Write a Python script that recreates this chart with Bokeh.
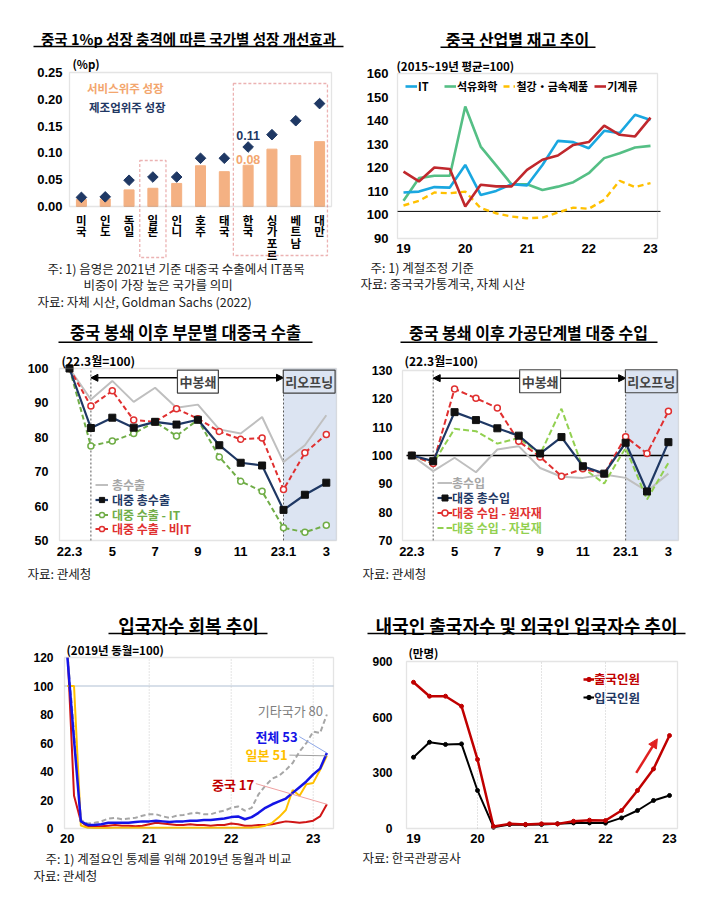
import math
from bokeh.plotting import figure
from bokeh.models import (Label, BoxAnnotation, Legend, LegendItem, FixedTicker,
                          Arrow, NormalHead, Range1d, NumeralTickFormatter)
from bokeh.layouts import column, row
from bokeh.embed import file_html
from bokeh.resources import INLINE

KR = "Noto Sans CJK KR"
AR = "Liberation Sans"

# ---------------- data ----------------
# Panel 1
p1_countries = ["미국", "인도", "독일", "일본", "인니", "호주", "태국", "한국", "싱가포르", "베트남", "대만"]
p1_service = [0.013, 0.014, 0.031, 0.034, 0.043, 0.076, 0.065, 0.077, 0.107, 0.095, 0.121]
p1_manuf = [0.017, 0.018, 0.049, 0.055, 0.055, 0.090, 0.090, 0.111, 0.134, 0.160, 0.192]
p1_yticks = [0.0, 0.05, 0.10, 0.15, 0.20, 0.25]

# Panel 2 (quarterly)
p2_quarters = ["19Q1", "19Q2", "19Q3", "19Q4", "20Q1", "20Q2", "20Q3", "20Q4", "21Q1", "21Q2",
               "21Q3", "21Q4", "22Q1", "22Q2", "22Q3", "22Q4", "23Q1"]
p2_it = [109.5, 109.9, 111.8, 111.6, 121.2, 108.5, 110.2, 113.0, 112.5, 121.2, 131.4, 130.9,
         128.3, 135.7, 134.7, 142.5, 140.3]
p2_petro = [106.0, 115.6, 116.6, 116.6, 146.0, 129.0, 121.0, 113.0, 113.0, 110.6, 112.0, 113.9,
            117.7, 124.1, 126.2, 128.6, 129.3]
p2_steel = [104.0, 106.0, 109.5, 109.2, 109.9, 102.9, 100.7, 99.3, 98.6, 98.9, 101.0, 103.1,
            102.6, 106.4, 114.5, 111.8, 113.5]
p2_mach = [118.4, 114.2, 120.1, 119.5, 103.6, 112.8, 112.1, 112.1, 119.1, 123.4, 125.2, 129.7,
           130.9, 137.9, 134.0, 133.3, 141.3]
p2_years = [2019, 2020, 2021, 2022, 2023]
p2_year_labels = ["19", "20", "21", "22", "23"]
p2_yticks = [90, 100, 110, 120, 130, 140, 150, 160]
p2_ref = 101.5

# Panel 3 (monthly, 22.3 = 100)
p3_months = ["22.3", "22.4", "22.5", "22.6", "22.7", "22.8", "22.9", "22.10", "22.11", "22.12",
             "23.1", "23.2", "23.3"]
p3_tick_labels = {0: "22.3", 2: "5", 4: "7", 6: "9", 8: "11", 10: "23.1", 12: "3"}
p3_yticks = [50, 60, 70, 80, 90, 100]
p3_total = [100, 91.0, 96.4, 90.3, 94.4, 88.6, 89.5, 82.3, 81.1, 85.9, 72.8, 77.7, 86.4]
p3_china = [100, 82.7, 85.7, 82.8, 84.5, 83.7, 85.1, 77.7, 72.6, 71.8, 58.9, 63.3, 66.8]
p3_it = [100, 77.5, 78.9, 81.1, 84.5, 80.4, 85.1, 74.3, 67.2, 64.3, 53.7, 52.4, 54.4]
p3_nonit = [100, 89.1, 93.5, 85.0, 84.5, 88.3, 85.4, 81.7, 79.4, 79.8, 64.8, 75.5, 80.8]

# Panel 4
p4_yticks = [70, 80, 90, 100, 110, 120, 130]
p4_total = [100, 94.5, 99.2, 94.1, 102.1, 103.3, 95.6, 92.5, 92.1, 93.3, 92.1, 87.4, 93.6]
p4_china = [100, 98.0, 115.3, 112.5, 109.6, 107.0, 100.7, 106.5, 96.2, 93.6, 104.5, 87.3, 104.7]
p4_raw = [100, 97.2, 123.5, 120.2, 116.8, 105.0, 99.5, 92.7, 95.3, 93.6, 106.6, 100.7, 115.6]
p4_capital = [100, 97.2, 109.4, 108.6, 104.2, 106.2, 100.4, 116.5, 95.6, 90.1, 102.7, 84.5, 97.4]

# Panel 5 (monthly, 2019 same month = 100)
p5_months = [f"{y}-{m:02d}" for y in range(2020, 2024) for m in range(1, 13)][:39]
p5_total = [122, 62, 5, 2.5, 2.5, 3, 4, 4, 4, 4, 4.5, 5, 5, 5.5, 5, 4.5, 5, 5, 5.5, 5.5, 6, 6, 6.5,
            7, 8, 8.5, 6.5, 8, 11, 14.5, 17, 19, 21, 25, 29, 33, 38, 42, 53]
p5_other = [125, 68, 6, 3.5, 4, 5, 7, 7.5, 6.5, 7, 7.5, 9, 10, 10, 8.5, 7.5, 9, 9.5, 10.5, 11, 10,
            10, 11.5, 12.5, 14.5, 15.5, 12.5, 14.5, 24, 30, 35, 37, 41, 46, 54, 60, 68, 67, 80]
p5_japan = [100, 100, 2, 0.5, 0.4, 0.4, 0.4, 0.5, 0.5, 0.5, 0.5, 0.5, 0.5, 0.5, 0.5, 0.5, 0.5,
            0.5, 0.5, 0.5, 0.5, 0.5, 0.5, 0.5, 0.5, 0.5, 0.5, 0.5, 1, 2, 4, 8, 13, 27, 23, 31,
            32, 41, 51]
p5_china = [130, 23, 5, 1, 1, 1.5, 2, 2.5, 2, 2, 1.5, 2, 3, 4, 3.5, 3, 2.5, 2.5, 3, 2.5, 2.5, 2,
            2.5, 2.5, 3.5, 3, 2, 2, 2.5, 2.5, 3, 4, 5, 4.5, 4, 4.5, 5.5, 8.5, 17]
p5_years = [2020, 2021, 2022, 2023]
p5_year_labels = ["20", "21", "22", "23"]
p5_yticks = [0, 20, 40, 60, 80, 100, 120]

# Panel 6 (quarterly, 만명)
p6_quarters = p2_quarters
p6_out = [788, 713, 713, 659, 372, 11, 25, 22, 25, 25, 39, 45, 43, 97, 205, 321, 501]
p6_in = [384, 465, 453, 456, 205, 7, 22, 20, 22, 25, 30, 30, 29, 57, 97, 151, 178]
p6_years = [2019, 2020, 2021, 2022, 2023]
p6_year_labels = ["19", "20", "21", "22", "23"]
p6_yticks = [0, 300, 600, 900]


def q2x(q):
    return 2000 + int(q[:2]) + (int(q[3]) - 1) / 4


def m2x(m):
    y, mo = m.split("-")
    return int(y) + (int(mo) - 1) / 12


# ---------------- helpers ----------------
NAVY = "#1F3864"
ORANGE = "#F4B183"
GRAYBOX = "#A6A6A6"


def mapper(va, pa, vb, pb):
    k = (vb - va) / (pb - pa)
    return lambda px: va + (px - pa) * k


def panel_fig(P, X, Y):
    x0, y0, x1, y1 = P
    p = figure(width=x1 - x0, height=y1 - y0, x_range=Range1d(X(x0), X(x1)),
               y_range=Range1d(Y(y1), Y(y0)), title=None, output_backend="svg",
               toolbar_location=None, min_border_left=0, min_border_right=0,
               min_border_top=0, min_border_bottom=0)
    p.xgrid.visible = False
    p.ygrid.visible = False
    p.outline_line_color = None
    for ax in [p.xaxis[0], p.yaxis[0]]:
        ax.axis_line_color = None
        ax.major_tick_line_color = None
        ax.minor_tick_line_color = None
        ax.major_tick_out = 0
        ax.major_tick_in = 0
        ax.minor_tick_out = 0
        ax.minor_tick_in = 0
        ax.major_label_text_font = AR
        ax.major_label_text_font_style = "bold"
        ax.major_label_text_font_size = "13px"
        ax.major_label_text_color = "black"
    return p


def place_axes(p, P, ylab_right, xlab_top):
    # tick labels sit inside the panel: right edge of y labels / top of x labels (page px)
    p.yaxis[0].major_label_standoff = -(ylab_right - P[0])
    p.xaxis[0].major_label_standoff = xlab_top - P[3]


def ptext(p, P, X, Y, text, size, color="black", bold=False, font=KR, align="left"):
    p.add_layout(Label(x=X - P[0], y=P[3] - Y, x_units="screen", y_units="screen",
                       text=text, text_font=font, text_font_size=f"{size}px",
                       text_font_style="bold" if bold else "normal",
                       text_color=color, text_align=align, text_baseline="middle"))


def ptitle(p, P, Xc, Y, text, size, X0, X1, Yu):
    ptext(p, P, Xc, Y, text, size, bold=True, align="center")
    p.add_layout(BoxAnnotation(left=X0 - P[0], right=X1 - P[0], bottom=P[3] - Yu - 0.8,
                               top=P[3] - Yu + 0.8, left_units="screen", right_units="screen",
                               bottom_units="screen", top_units="screen",
                               fill_color="black", fill_alpha=1, line_color=None))


def pnote(p, P, X, Y, text):
    ptext(p, P, X, Y, text, 12.5, color="#222222")


def pbox(p, P, fl, fr, ft, fb):
    p.add_layout(BoxAnnotation(left=fl - P[0], right=fr - P[0], bottom=P[3] - fb, top=P[3] - ft,
                               left_units="screen", right_units="screen",
                               bottom_units="screen", top_units="screen",
                               fill_alpha=0, line_color=GRAYBOX, line_width=1.3))


def add_legend(p, P, X, Yc, items, color, size, gw, standoff, orientation="vertical", spacing=0):
    rowh = max(14, round(1.45 * size))
    lg = Legend(items=items, location=(X - P[0], P[3] - Yc - rowh / 2), orientation=orientation,
                label_text_font=KR, label_text_font_style="bold",
                label_text_font_size=f"{size}px", label_text_color=color,
                glyph_width=gw, glyph_height=rowh, label_height=rowh,
                label_standoff=standoff, spacing=spacing, padding=0, margin=0,
                background_fill_alpha=0, border_line_alpha=0)
    p.add_layout(lg)


# ================= Panel 1 =================
P1 = (0, 0, 355, 310)
X1 = mapper(0, 69, len(p1_countries), 331)
Y1 = mapper(0, 206, 0.25, 72)
p1 = panel_fig(P1, X1, Y1)
pbox(p1, P1, 69, 331, 72, 206)
xc1 = [i + 0.5 for i in range(len(p1_countries))]
p1.vbar(x=xc1, top=p1_service, width=0.42, color=ORANGE)
p1.scatter(x=xc1, y=p1_manuf, marker="square", angle=math.pi / 4, size=7.5, color=NAVY)
p1.yaxis[0].ticker = FixedTicker(ticks=p1_yticks)
p1.yaxis[0].formatter = NumeralTickFormatter(format="0.00")
p1.xaxis[0].ticker = FixedTicker(ticks=xc1)
p1.xaxis[0].major_label_overrides = {x: "\n".join(c) for x, c in zip(xc1, p1_countries)}
p1.xaxis[0].major_label_text_font = KR
p1.xaxis[0].major_label_text_font_size = "11.5px"
p1.xaxis[0].major_label_text_line_height = 0.74
place_axes(p1, P1, 62, 211)
i_jp = p1_countries.index("일본")
i_kr = p1_countries.index("한국")
i_tw = p1_countries.index("대만")
p1.add_layout(BoxAnnotation(left=i_jp - 0.05, right=i_jp + 1.05, top=Y1(160), bottom=Y1(257),
                            fill_alpha=0, line_color="#C00000", line_width=1.3, line_dash="3 2"))
p1.add_layout(BoxAnnotation(left=i_kr - 0.12, right=i_tw + 0.83, top=Y1(83), bottom=Y1(255),
                            fill_alpha=0, line_color="#C00000", line_width=1.3, line_dash="3 2"))
p1.add_layout(Label(x=xc1[i_kr], y=p1_manuf[i_kr] + 0.021, text=f"{p1_manuf[i_kr]:.2f}",
                    text_font=AR, text_font_style="bold", text_font_size="12.5px",
                    text_color=NAVY, text_align="center", text_baseline="middle"))
p1.add_layout(Label(x=xc1[i_kr], y=p1_service[i_kr] + 0.011, text=f"{p1_service[i_kr]:.2f}",
                    text_font=AR, text_font_style="bold", text_font_size="12.5px",
                    text_color="#F3A66E", text_align="center", text_baseline="middle"))
bar_proxy = p1.line(x=[], y=[], line_color=ORANGE, line_width=5)
dia_proxy = p1.scatter(x=[], y=[], marker="diamond", size=9, color=NAVY)
add_legend(p1, P1, 79, 88.3, [LegendItem(label="서비스위주 성장", renderers=[bar_proxy])],
           "#F3A66E", 11.5, 8, 0)
add_legend(p1, P1, 77, 107.3, [LegendItem(label="제조업위주 성장", renderers=[dia_proxy])],
           NAVY, 11.5, 11, 1)
ptext(p1, P1, 72, 63, "(%p)", 11.5, bold=True)
ptitle(p1, P1, 188, 38, "중국 1%p 성장 충격에 따른 국가별 성장 개선효과", 14.5, 33, 343, 46)
pnote(p1, P1, 47, 268, "주: 1) 음영은 2021년 기준 대중국 수출에서 IT품목")
pnote(p1, P1, 83, 284, "비중이 가장 높은 국가를 의미")
pnote(p1, P1, 37, 301, "자료: 자체 시산, Goldman Sachs (2022)")

# ================= Panel 2 =================
P2 = (355, 0, 710, 310)
X2 = mapper(2019, 403, 2023, 650)
Y2 = mapper(90, 238, 160, 73)
p2 = panel_fig(P2, X2, Y2)
pbox(p2, P2, 397, 657, 73, 238)
x2 = [q2x(q) for q in p2_quarters]
p2.yaxis[0].ticker = FixedTicker(ticks=p2_yticks)
p2.xaxis[0].ticker = FixedTicker(ticks=p2_years)
p2.xaxis[0].major_label_overrides = {y: l for y, l in zip(p2_years, p2_year_labels)}
place_axes(p2, P2, 388, 243)
p2.segment(x0=[X2(397)], y0=[p2_ref], x1=[X2(660)], y1=[p2_ref], line_color="black", line_width=1)
r_petro = p2.line(x2, p2_petro, line_color="#55BF85", line_width=2.6)
r_steel = p2.line(x2, p2_steel, line_color="#FFC000", line_width=2.4, line_dash="6 4")
r_it = p2.line(x2, p2_it, line_color="#1AA7E0", line_width=2.6)
r_mach = p2.line(x2, p2_mach, line_color="#C0282D", line_width=2.6)
add_legend(p2, P2, 405, 86, [LegendItem(label="IT", renderers=[r_it]),
                             LegendItem(label="석유화학", renderers=[r_petro]),
                             LegendItem(label="철강・금속제품", renderers=[r_steel]),
                             LegendItem(label="기계류", renderers=[r_mach])],
           "black", 11, 12, 1, orientation="horizontal", spacing=6)
ptext(p2, P2, 396, 65, "(2015~19년 평균=100)", 11.5, bold=True)
ptitle(p2, P2, 517, 38, "중국 산업별 재고 추이", 16, 440, 595, 46.7)
pnote(p2, P2, 370, 267, "주: 1) 계절조정 기준")
pnote(p2, P2, 360, 283, "자료: 중국국가통계국, 자체 시산")


# ================= Panels 3 & 4 =================
def lockdown_decor(p, P, x, lo, hi, fr, ybox, yarrow):
    i1 = p3_months.index("22.4")
    i10 = p3_months.index("23.1")
    p.add_layout(BoxAnnotation(left=x[i10], right=fr - P[0], right_units="screen",
                               bottom=lo, top=hi, fill_color="#DCE4F2",
                               fill_alpha=1, line_color=None, level="underlay"))
    p.segment(x0=[x[i1], x[i10]], y0=[lo, lo], x1=[x[i1], x[i10]], y1=[hi, hi],
              line_color="#595959", line_width=1, line_dash="2 2")
    p.add_layout(Arrow(x_start=x[i1], x_end=x[i10], y_start=yarrow, y_end=yarrow,
                       line_color="black", line_width=1.5,
                       start=NormalHead(size=7, fill_color="black", line_color="black"),
                       end=NormalHead(size=7, fill_color="black", line_color="black")))
    p.add_layout(Label(x=6.0, y=ybox, text="中봉쇄", text_font=KR, text_font_style="bold",
                       text_font_size="13px", text_align="center", text_baseline="middle",
                       background_fill_color="white", border_line_color="#404040",
                       border_line_width=1.2, padding=2))
    p.add_layout(Label(x=11.2, y=ybox, text="리오프닝", text_font=KR, text_font_style="bold",
                       text_font_size="13px", text_align="center", text_baseline="middle",
                       background_fill_color="#DCE4F2", border_line_color="#404040",
                       border_line_width=1.2, padding=2))


def month_axis(p, yticks):
    p.xaxis[0].ticker = FixedTicker(ticks=list(p3_tick_labels.keys()))
    p.xaxis[0].major_label_overrides = p3_tick_labels
    p.yaxis[0].ticker = FixedTicker(ticks=yticks)
    p.yaxis[0].major_label_text_font_size = "12.5px"


# ---- Panel 3 ----
P3 = (0, 310, 355, 596)
X3 = mapper(0, 69, 12, 325.8)
Y3 = mapper(50, 540, 100, 368)
p3 = panel_fig(P3, X3, Y3)
x3 = list(range(len(p3_months)))
lockdown_decor(p3, P3, x3, 50, 100, 336, 96.2, 97.3)
pbox(p3, P3, 59, 336, 368, 540)
month_axis(p3, p3_yticks)
place_axes(p3, P3, 48, 546)
r3_tot = p3.line(x3, p3_total, line_color="#BFBFBF", line_width=2)
r3_it = p3.line(x3, p3_it, line_color="#70AD47", line_width=2, line_dash="5 3")
s3_it = p3.scatter(x3, p3_it, marker="circle", size=6, fill_color="white",
                   line_color="#70AD47", line_width=1.5)
r3_nit = p3.line(x3, p3_nonit, line_color="#E03030", line_width=2, line_dash="5 3")
s3_nit = p3.scatter(x3, p3_nonit, marker="circle", size=6, fill_color="white",
                    line_color="#E03030", line_width=1.5)
r3_ch = p3.line(x3, p3_china, line_color=NAVY, line_width=2.2)
s3_ch = p3.scatter(x3, p3_china, marker="square", size=7, color="#111111")
add_legend(p3, P3, 95, 484, [LegendItem(label="총수출", renderers=[r3_tot])], "#A6A6A6", 12, 13, 4)
add_legend(p3, P3, 95, 499, [LegendItem(label="대중 총수출", renderers=[r3_ch, s3_ch])], NAVY, 12, 13, 4)
add_legend(p3, P3, 95, 514, [LegendItem(label="대중 수출 - IT", renderers=[r3_it, s3_it])], "#70AD47", 12, 13, 4)
add_legend(p3, P3, 95, 528, [LegendItem(label="대중 수출 - 비IT", renderers=[r3_nit, s3_nit])], "#E03030", 12, 13, 4)
ptext(p3, P3, 61, 360, "(22.3월=100)", 12, bold=True)
ptitle(p3, P3, 185, 331, "중국 봉쇄 이후 부문별 대중국 수출", 16.5, 58, 312, 341.7)
pnote(p3, P3, 27, 573, "자료: 관세청")

# ---- Panel 4 ----
P4 = (355, 310, 710, 596)
X4 = mapper(0, 411.3, 12, 667.9)
Y4 = mapper(70, 540, 130, 370)
p4 = panel_fig(P4, X4, Y4)
x4 = list(range(len(p3_months)))
lockdown_decor(p4, P4, x4, 70, 130, 678, 126.2, 127.3)
pbox(p4, P4, 402, 678, 370, 540)
month_axis(p4, p4_yticks)
place_axes(p4, P4, 392, 546)
p4.segment(x0=[X4(406)], y0=[100], x1=[X4(668)], y1=[100], line_color="black", line_width=1.3)
r4_tot = p4.line(x4, p4_total, line_color="#BFBFBF", line_width=2)
r4_cap = p4.line(x4, p4_capital, line_color="#92D050", line_width=2, line_dash="6 3")
r4_raw = p4.line(x4, p4_raw, line_color="#E03030", line_width=2, line_dash="6 3")
s4_raw = p4.scatter(x4, p4_raw, marker="circle", size=6, fill_color="white",
                    line_color="#E03030", line_width=1.5)
r4_ch = p4.line(x4, p4_china, line_color=NAVY, line_width=2.2)
s4_ch = p4.scatter(x4, p4_china, marker="square", size=7, color="#111111")
add_legend(p4, P4, 437, 482.3, [LegendItem(label="총수입", renderers=[r4_tot])], "#A6A6A6", 12, 15, 0)
add_legend(p4, P4, 437, 497.3, [LegendItem(label="대중 총수입", renderers=[r4_ch, s4_ch])], NAVY, 12, 15, 0)
add_legend(p4, P4, 437, 512.3, [LegendItem(label="대중 수입 - 원자재", renderers=[r4_raw, s4_raw])], "#E03030", 12, 15, 0)
add_legend(p4, P4, 437, 527.3, [LegendItem(label="대중 수입 - 자본재", renderers=[r4_cap])], "#92D050", 12, 15, 0)
ptext(p4, P4, 404, 360, "(22.3월=100)", 12, bold=True)
ptitle(p4, P4, 528, 331, "중국 봉쇄 이후 가공단계별 대중 수입", 16, 400, 657, 341.7)
pnote(p4, P4, 362, 573, "자료: 관세청")

# ================= Panel 5 =================
P5 = (0, 596, 355, 896)
X5 = mapper(2020, 66.7, 2023, 312.7)
Y5 = mapper(0, 828, 120, 657)
p5 = panel_fig(P5, X5, Y5)
x5 = [m2x(m) for m in p5_months]
p5.yaxis[0].ticker = FixedTicker(ticks=p5_yticks)
p5.yaxis[0].major_label_text_font_size = "12px"
p5.xaxis[0].ticker = FixedTicker(ticks=p5_years)
p5.xaxis[0].major_label_overrides = {y: l for y, l in zip(p5_years, p5_year_labels)}
place_axes(p5, P5, 53, 833)
p5.segment(x0=[X5(64)], y0=[100], x1=[X5(333)], y1=[100], line_color="#AFC0D4", line_width=1.2)
p5.segment(x0=p5_years[1:], y0=[0] * 3, x1=p5_years[1:], y1=[120] * 3,
           line_color="#C8C8C8", line_width=1, line_dash="1 2")
p5.line(x5, p5_china, line_color="#D01515", line_width=2)
p5.line(x5, p5_other, line_color="#A6A6A6", line_width=2, line_dash="5 3")
p5.line(x5, p5_japan, line_color="#FFC000", line_width=2)
p5.line(x5, p5_total, line_color="#1414E6", line_width=2.5)
# the box clips the 2020-01 values that lie above 120
p5.add_layout(BoxAnnotation(left=X5(62), right=X5(335), bottom=120, top=Y5(638),
                            fill_color="white", fill_alpha=1, line_color=None))
pbox(p5, P5, 64, 333, 657, 828)
xe = x5[-1]
p5.segment(x0=[2022.83], y0=[64.5], x1=[xe], y1=[p5_total[-1]], line_color="#8FA8E8", line_width=1)
p5.segment(x0=[2022.71], y0=[51.5], x1=[xe], y1=[p5_japan[-1]], line_color="#A0A0A0", line_width=1)
p5.segment(x0=[2022.30], y0=[31.5], x1=[xe], y1=[p5_china[-1]], line_color="#F0A0A0", line_width=1)
for xl, yl, t, c, b in [(2023.12, 83, f"기타국가 {round(p5_other[-1])}", "#7F7F7F", False),
                        (2022.81, 64.5, f"전체 {round(p5_total[-1])}", "#1414E6", True),
                        (2022.69, 52, f"일본 {round(p5_japan[-1])}", "#FFC000", True),
                        (2022.28, 31, f"중국 {round(p5_china[-1])}", "#C00000", True)]:
    p5.add_layout(Label(x=xl, y=yl, text=t, text_font=KR, text_font_size="13px",
                        text_font_style="bold" if b else "normal", text_color=c,
                        text_align="right", text_baseline="middle"))
ptext(p5, P5, 66, 649, "(2019년 동월=100)", 11.5, bold=True)
ptitle(p5, P5, 188, 624, "입국자수 회복 추이", 18, 108, 267, 633)
pnote(p5, P5, 45, 858, "주: 1) 계절요인 통제를 위해 2019년 동월과 비교")
pnote(p5, P5, 33, 875, "자료: 관세청")

# ================= Panel 6 =================
P6 = (355, 596, 710, 896)
X6 = mapper(2019, 413, 2023, 669)
Y6 = mapper(0, 828, 900, 661)
p6 = panel_fig(P6, X6, Y6)
pbox(p6, P6, 406, 677, 661, 828)
x6 = [q2x(q) for q in p6_quarters]
p6.yaxis[0].ticker = FixedTicker(ticks=p6_yticks)
p6.yaxis[0].major_label_text_font_size = "12px"
p6.xaxis[0].ticker = FixedTicker(ticks=p6_years)
p6.xaxis[0].major_label_overrides = {y: l for y, l in zip(p6_years, p6_year_labels)}
place_axes(p6, P6, 392, 833)
p6.segment(x0=p6_years[1:4], y0=[0] * 3, x1=p6_years[1:4], y1=[900] * 3,
           line_color="#C8C8C8", line_width=1, line_dash="1 2")
r6_in = p6.line(x6, p6_in, line_color="black", line_width=2)
s6_in = p6.scatter(x6, p6_in, marker="circle", size=4, color="black")
r6_out = p6.line(x6, p6_out, line_color="#C00000", line_width=2.5)
s6_out = p6.scatter(x6, p6_out, marker="circle", size=4, color="#C00000")
p6.add_layout(Arrow(x_start=2022.48, y_start=300, x_end=2022.81, y_end=483,
                    line_color="#E02020", line_width=2.5,
                    end=NormalHead(size=9, fill_color="#E02020", line_color="#E02020")))
add_legend(p6, P6, 583, 679, [LegendItem(label="출국인원", renderers=[r6_out, s6_out])], "#C00000", 12.5, 11, 0)
add_legend(p6, P6, 583, 697.7, [LegendItem(label="입국인원", renderers=[r6_in, s6_in])], NAVY, 12.5, 11, 0)
ptext(p6, P6, 408, 652, "(만명)", 11.5, bold=True)
ptitle(p6, P6, 526, 624, "내국인 출국자수 및 외국인 입국자수 추이", 18, 367, 685, 633)
pnote(p6, P6, 362, 857, "자료: 한국관광공사")

page = column(row(p1, p2), row(p3, p4), row(p5, p6))
open("out.html", "w").write(file_html(page, INLINE))
